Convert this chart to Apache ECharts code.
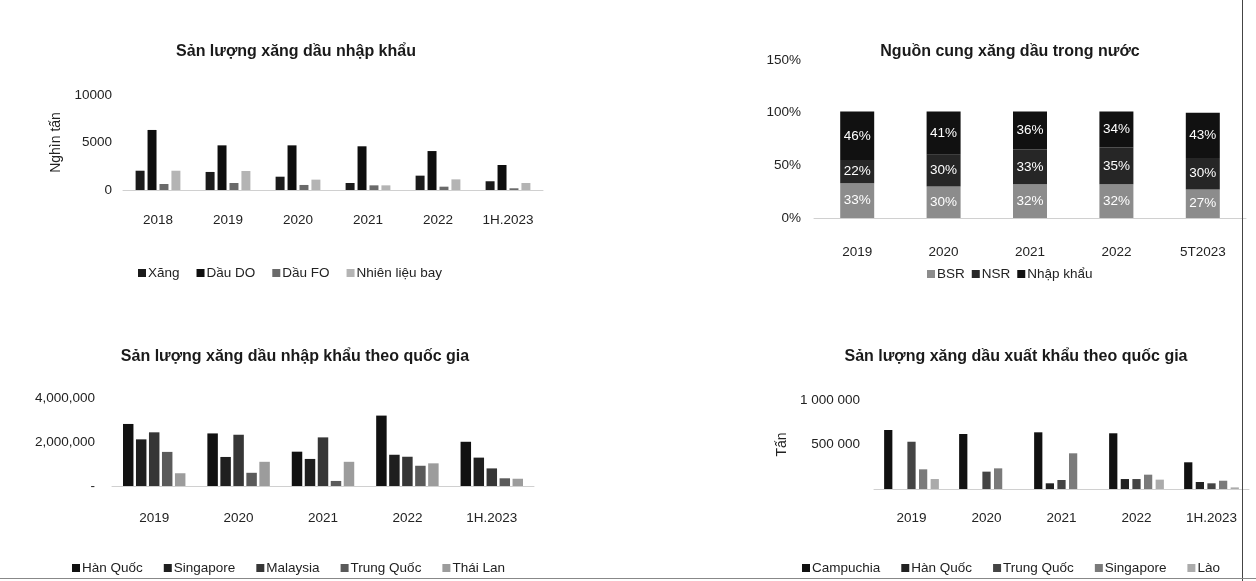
<!DOCTYPE html>
<html><head><meta charset="utf-8">
<script src="https://cdn.jsdelivr.net/npm/echarts/dist/echarts.min.js"></script>
<style>
html,body{margin:0;padding:0;background:#fff;}
#wrap{position:relative;width:1256px;height:581px;overflow:hidden;background:#fff;}
.c{position:absolute;}
#edgeR{position:absolute;left:1242px;top:0;width:1px;height:581px;background:#444;}
#edgeB{position:absolute;left:0;top:578px;width:1256px;height:1px;background:#888;}
</style></head><body>
<div id="wrap">
<div id="c1" class="c" style="left:0;top:0;width:628px;height:290px"></div>
<div id="c2" class="c" style="left:628px;top:0;width:628px;height:290px"></div>
<div id="c3" class="c" style="left:0;top:290px;width:628px;height:291px"></div>
<div id="c4" class="c" style="left:628px;top:290px;width:628px;height:291px"></div>
<div id="edgeR"></div><div id="edgeB"></div>
</div>
<script>
// ---- Chart 1: Sản lượng xăng dầu nhập khẩu (nghìn tấn)
const years1 = ['2018','2019','2020','2021','2022','1H.2023'];
const xang = [2030,1900,1400,740,1510,920];
const dauDO = [6320,4700,4700,4600,4100,2630];
const dauFO = [630,740,530,490,350,180];
const nhienLieuBay = [2030,2000,1090,490,1120,740];
const ticks1 = {min:0, max:10000, interval:5000};

// ---- Chart 2: Nguồn cung xăng dầu trong nước (%)
const years2 = ['2019','2020','2021','2022','5T2023'];
const bsr = [33,30,32,32,27];
const nsr = [22,30,33,35,30];
const nhapKhau = [46,41,36,34,43];
const ticks2 = {min:0, max:150, interval:50};

// ---- Chart 3: Sản lượng xăng dầu nhập khẩu theo quốc gia (tấn)
const years3 = ['2019','2020','2021','2022','1H.2023'];
const hanQuoc3 = [2820000,2390000,1560000,3200000,2010000];
const singapore3 = [2120000,1320000,1230000,1420000,1290000];
const malaysia3 = [2440000,2330000,2210000,1330000,800000];
const trungQuoc3 = [1550000,600000,230000,920000,350000];
const thaiLan3 = [580000,1100000,1100000,1030000,330000];
const ticks3 = {min:0, max:4000000, interval:2000000};

// ---- Chart 4: Sản lượng xăng dầu xuất khẩu theo quốc gia (tấn)
const years4 = ['2019','2020','2021','2022','1H.2023'];
const campuchia4 = [663000,618000,637000,626000,300000];
const hanQuoc4 = [0,0,64000,112000,79000];
const trungQuoc4 = [531000,195000,101000,112000,64000];
const singapore4 = [221000,232000,401000,161000,93000];
const lao4 = [112000,0,0,105000,18000];
const ticks4 = {min:0, max:1000000, interval:500000};

const FONT = 'Liberation Sans, Arial, sans-serif';
const TXT = '#222';

function title(text, cx, top){
  return {text, left:cx, top, textAlign:'center',
    textStyle:{fontFamily:FONT, fontSize:16, fontWeight:'bold', color:'#1a1a1a'}};
}
function legend(left, top, gap){
  return {left, top, itemWidth:8, itemHeight:8, icon:'rect', itemGap:gap,
    textStyle:{fontFamily:FONT, fontSize:13.5, color:TXT, padding:[0,0,0,-3]}};
}
function xAxis(data, margin){
  return {type:'category', data,
    axisLine:{show:true, lineStyle:{color:'#d0d0d0', width:1}},
    axisTick:{show:false},
    axisLabel:{fontFamily:FONT, fontSize:13.5, color:TXT, margin}};
}
function yAxis(t, margin, fmt, extra){
  return Object.assign({type:'value', min:t.min, max:t.max, interval:t.interval,
    splitLine:{show:false}, axisLine:{show:false}, axisTick:{show:false},
    axisLabel:{fontFamily:FONT, fontSize:13.5, color:TXT, margin, formatter:fmt}}, extra||{});
}
function bar(name, data, color, opts){
  return Object.assign({type:'bar', name, data, itemStyle:{color}}, opts||{});
}

const c1 = echarts.init(document.getElementById('c1'), null, {renderer:'canvas'});
const o1 = {barGap:'33%', barCategoryGap:'36%'};
c1.setOption({
  animation:false,
  title: title('Sản lượng xăng dầu nhập khẩu', 291, 39),
  legend: Object.assign(legend(133, 261, 17), {data:['Xăng','Dầu DO','Dầu FO','Nhiên liệu bay']}),
  grid:{left:123, top:95, width:420, height:95},
  xAxis: xAxis(years1, 23),
  yAxis: yAxis(ticks1, 11, v=>String(v), {name:'Nghìn tấn', nameLocation:'middle', nameRotate:90, nameGap:56,
    nameTextStyle:{fontFamily:FONT, fontSize:14, color:TXT}}),
  series:[
    bar('Xăng', xang, '#1b1b1b', o1),
    bar('Dầu DO', dauDO, '#0e0e0e', o1),
    bar('Dầu FO', dauFO, '#6a6a6a', o1),
    bar('Nhiên liệu bay', nhienLieuBay, '#b4b4b4', o1)
  ]
});

const c2 = echarts.init(document.getElementById('c2'));
const lbl2 = {show:true, position:'inside', color:'#fff', fontFamily:FONT, fontSize:13.5, formatter:'{c}%'};
const o2 = {stack:'total', barWidth:34, label:lbl2};
c2.setOption({
  animation:false,
  title: title('Nguồn cung xăng dầu trong nước', 377, 39),
  legend: Object.assign(legend(294, 262, 7), {data:['BSR','NSR','Nhập khẩu']}),
  grid:{left:186, top:60, width:432, height:158},
  xAxis: xAxis(years2, 27),
  yAxis: yAxis(ticks2, 13, v=>v+'%'),
  series:[
    bar('BSR', bsr, '#8c8c8c', o2),
    bar('NSR', nsr, '#262626', o2),
    bar('Nhập khẩu', nhapKhau, '#111111', o2)
  ]
});

const c3 = echarts.init(document.getElementById('c3'));
const o3 = {barGap:'24%', barCategoryGap:'26%'};
c3.setOption({
  animation:false,
  title: title('Sản lượng xăng dầu nhập khẩu theo quốc gia', 290, 54),
  legend: Object.assign(legend(67, 266, 21), {data:['Hàn Quốc','Singapore','Malaysia','Trung Quốc','Thái Lan']}),
  grid:{left:112, top:108, width:422, height:88},
  xAxis: xAxis(years3, 25),
  yAxis: yAxis(ticks3, 17, v=> v===0 ? '-' : v.toLocaleString('en-US')),
  series:[
    bar('Hàn Quốc', hanQuoc3, '#111111', o3),
    bar('Singapore', singapore3, '#1f1f1f', o3),
    bar('Malaysia', malaysia3, '#363636', o3),
    bar('Trung Quốc', trungQuoc3, '#5a5a5a', o3),
    bar('Thái Lan', thaiLan3, '#9c9c9c', o3)
  ]
});

const c4 = echarts.init(document.getElementById('c4'));
const o4 = {barGap:'41%', barCategoryGap:'27%'};
const spaced = v => v===0 ? '' : String(v).replace(/\B(?=(\d{3})+(?!\d))/g, ' ');
c4.setOption({
  animation:false,
  title: title('Sản lượng xăng dầu xuất khẩu theo quốc gia', 383, 54),
  legend: Object.assign(legend(169, 266, 21), {data:['Campuchia','Hàn Quốc','Trung Quốc','Singapore','Lào']}),
  grid:{left:246, top:110, width:375, height:89},
  xAxis: xAxis(years4, 22),
  yAxis: yAxis(ticks4, 14, spaced, {name:'Tấn', nameLocation:'middle', nameRotate:90, nameGap:84,
    nameTextStyle:{fontFamily:FONT, fontSize:14, color:TXT}}),
  series:[
    bar('Campuchia', campuchia4, '#111111', o4),
    bar('Hàn Quốc', hanQuoc4, '#222222', o4),
    bar('Trung Quốc', trungQuoc4, '#444444', o4),
    bar('Singapore', singapore4, '#7a7a7a', o4),
    bar('Lào', lao4, '#ababab', o4)
  ]
});
</script>
</body></html>
